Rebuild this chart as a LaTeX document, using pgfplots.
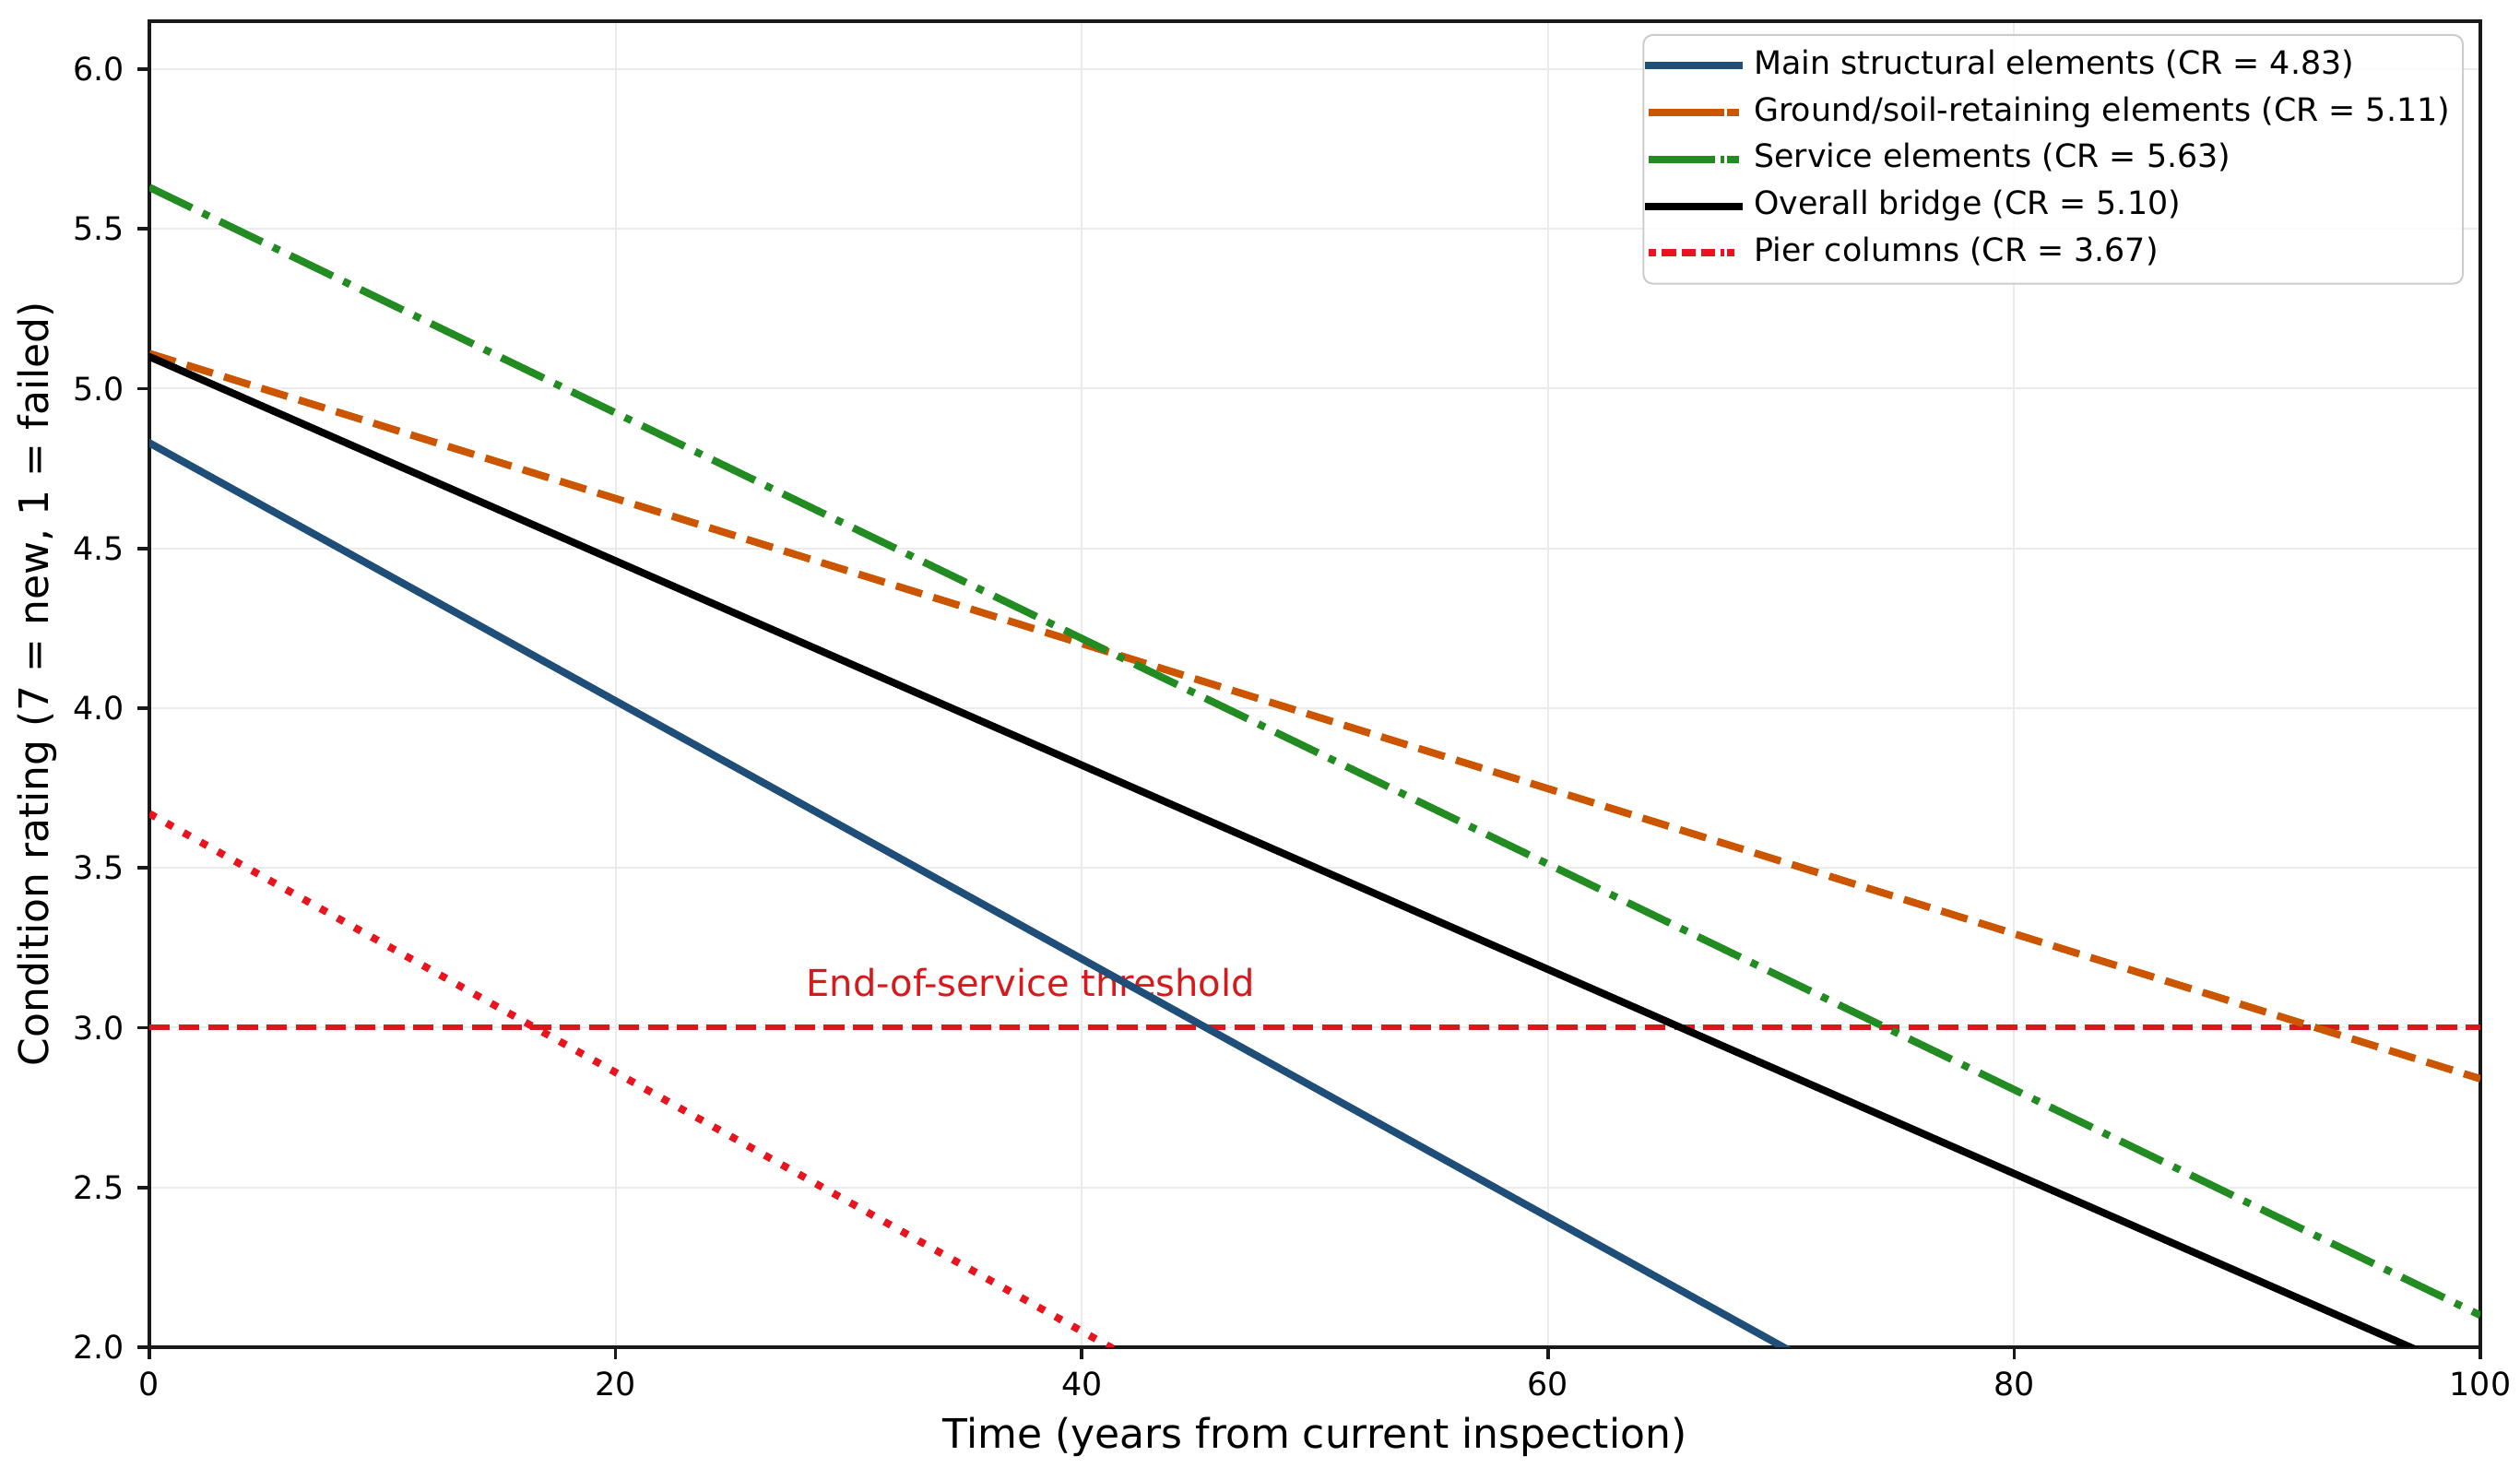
\documentclass[border=0pt]{standalone}
\usepackage{fontspec}
\setmainfont{DejaVu Sans}
\usepackage{pgfplots}
\pgfplotsset{compat=1.18}
\definecolor{cblue}{HTML}{1F4E79}
\definecolor{corange}{HTML}{CC5500}
\definecolor{cgreen}{HTML}{228B22}
\definecolor{cred}{HTML}{D7191C}
\definecolor{cpier}{HTML}{E8141E}
\definecolor{cgrid}{HTML}{EBEBEB}
\begin{document}
\begin{tikzpicture}
\path[use as bounding box] (-40.5pt,-36pt) rectangle (642.75pt,365.25pt);
\begin{axis}[
  at={(0,0)}, anchor=south west,
  scale only axis, width=632pt, height=359.5pt,
  xmin=0, xmax=100, ymin=2, ymax=6.15,
  xtick={0,20,40,60,80,100},
  ytick={2,2.5,3,3.5,4,4.5,5,5.5,6},
  /pgf/number format/assume math mode=true,
  tick pos=left, tick align=outside, major tick length=3.2pt,
  axis line style={line width=0.9pt, black!90},
  every tick/.style={line width=0.9pt, black!90},
  grid=major, major grid style={color=cgrid, line width=0.5pt},
  ticklabel style={font=\fontsize{8.7}{10}\selectfont},
  yticklabel style={/pgf/number format/fixed, /pgf/number format/fixed zerofill, /pgf/number format/precision=1, inner xsep=3.5pt},
  xticklabel style={inner ysep=3.3pt},
  label style={font=\fontsize{11}{13}\selectfont},
  xlabel={Time (years from current inspection)},
  ylabel={Condition rating (7 = new, 1 = failed)},
  xlabel style={at={(axis description cs:0.5,-0.0765)}, anchor=base},
  ylabel style={at={(axis description cs:-0.04826,0.5)}, anchor=center},
  legend cell align=left,
  legend style={at={(rel axis cs:1,1)}, anchor=north east, xshift=-4.5pt, yshift=-3.5pt,
    draw=black!20, line width=0.5pt, rounded corners=2.5pt, fill=white, fill opacity=0.8, text opacity=1,
    font=\fontsize{8.7}{10}\selectfont, inner xsep=0.5pt, inner ysep=4pt, row sep=4.1pt,
    nodes={inner xsep=3pt, inner ysep=0pt, text height=6.6pt, text depth=2pt}},
  legend image code/.code={\path (0pt,0pt) -- (24.5pt,0pt); \draw[#1,rounded corners=0pt] (3.5pt,0pt) -- (20.5pt,0pt);},
]
\node[anchor=base, text=cred, font=\fontsize{10}{12}\selectfont, inner sep=0pt] at (axis cs:37.8,3.097) {End-of-service threshold};
\addplot[forget plot, cred, line width=1.5pt, dash pattern=on 5.55pt off 2.4pt] coordinates {(0,3) (100,3)};
\addplot[cblue, line width=2pt, line cap=rect] coordinates {(0,4.83) (100,0.793)};
\addlegendentry{Main structural elements (CR = 4.83)}
\addplot[corange, line width=2pt, dash pattern=on 7.4pt off 3.2pt] coordinates {(0,5.11) (100,2.84)};
\addlegendentry{Ground/soil-retaining elements (CR = 5.11)}
\addplot[cgreen, line width=2pt, dash pattern=on 12.8pt off 3.2pt on 2pt off 3.2pt] coordinates {(0,5.63) (100,2.10)};
\addlegendentry{Service elements (CR = 5.63)}
\addplot[black, line width=2pt, line cap=rect] coordinates {(0,5.10) (100,1.904)};
\addlegendentry{Overall bridge (CR = 5.10)}
\addplot[cpier, line width=2pt, dash pattern=on 2pt off 3.3pt] coordinates {(0,3.67) (100,-0.38)};
\addlegendentry{Pier columns (CR = 3.67)}
\end{axis}
\end{tikzpicture}
\end{document}
